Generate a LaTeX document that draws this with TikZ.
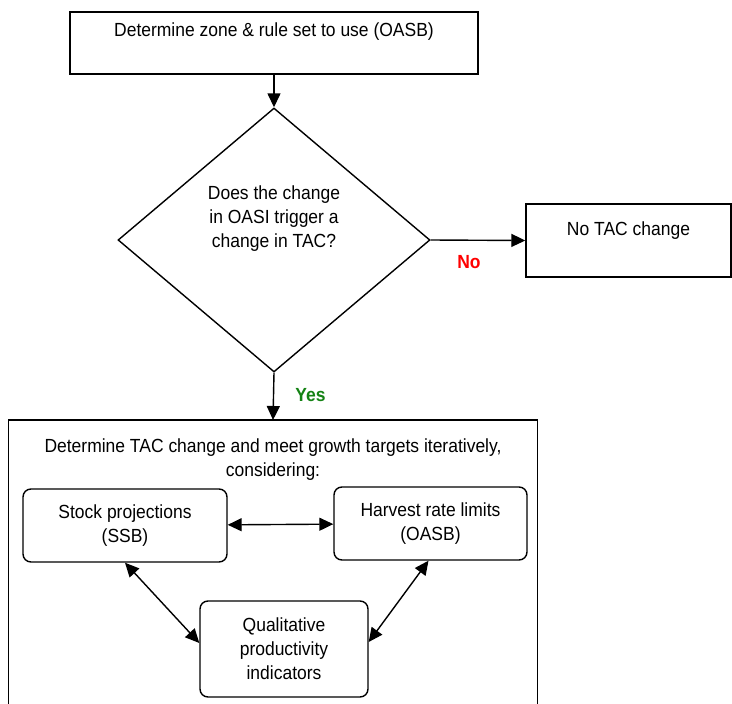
\documentclass[tikz,border=0pt]{standalone}
\usepackage{fontspec}
\setmainfont{Liberation Sans}[FakeStretch=0.92]
\usetikzlibrary{shapes.geometric,arrows.meta}
\definecolor{yesgreen}{RGB}{20,130,20}
\begin{document}
\begin{tikzpicture}[x=1pt,y=-1pt,line width=1.4pt,
  every node/.style={font=\fontsize{19}{24}\selectfont},
  box/.style={draw,rectangle,inner sep=0pt,align=center},
  rbox/.style={box,rounded corners=8pt},
  tip/.style={-{Triangle[length=14pt,width=13pt]}},
  both/.style={{Triangle[length=14pt,width=13pt]}-{Triangle[length=14pt,width=13pt]}}]
\useasboundingbox (0,0) rectangle (732,704);
\node[box,minimum width=408pt,minimum height=62pt,text height=14pt,text depth=28pt] (zone) at (274,43) {Determine zone \& rule set to use (OASB)};
\node[draw,diamond,aspect=1.18,inner sep=0pt,align=center,minimum width=312pt,minimum height=264pt,text depth=46pt] (trigger) at (274,240) {Does the change\\in OASI trigger a\\change in TAC?};
\node[box,minimum width=205pt,minimum height=73pt,text height=14pt,text depth=25pt] (notac) at (628.5,240.5) {No TAC change};
\node[inner sep=0pt,align=center,anchor=north,minimum width=528pt,minimum height=284pt,text depth=210pt] (tacbox) at (273,420) {Determine TAC change and meet growth targets iteratively,\\considering:};
\draw (tacbox.south west) |- (tacbox.north) -| (tacbox.south east);
\node[rbox,minimum width=204pt,minimum height=73pt] (stock) at (125,525.5) {Stock projections\\(SSB)};
\node[rbox,minimum width=193pt,minimum height=73pt] (harvest) at (430.5,523.5) {Harvest rate limits\\(OASB)};
\node[rbox,minimum width=168pt,minimum height=96pt] (qual) at (284,649) {Qualitative\\productivity\\indicators};
\node[red,font=\fontsize{19}{24}\selectfont\bfseries] (no) at (469,262) {No};
\node[yesgreen,font=\fontsize{19}{24}\selectfont\bfseries] (yes) at (310.5,395) {Yes};
\draw[tip] (zone.south) -- (trigger.north);
\draw[tip] (trigger.east) -- (notac.west);
\draw[tip] (trigger.south) -- (tacbox.north);
\draw[both] (stock) -- (harvest);
\draw[both] (stock.south) -- ([yshift=6pt]qual.west);
\draw[both] ([xshift=-2pt]harvest.south) -- ([yshift=7pt]qual.east);
\end{tikzpicture}
\end{document}
